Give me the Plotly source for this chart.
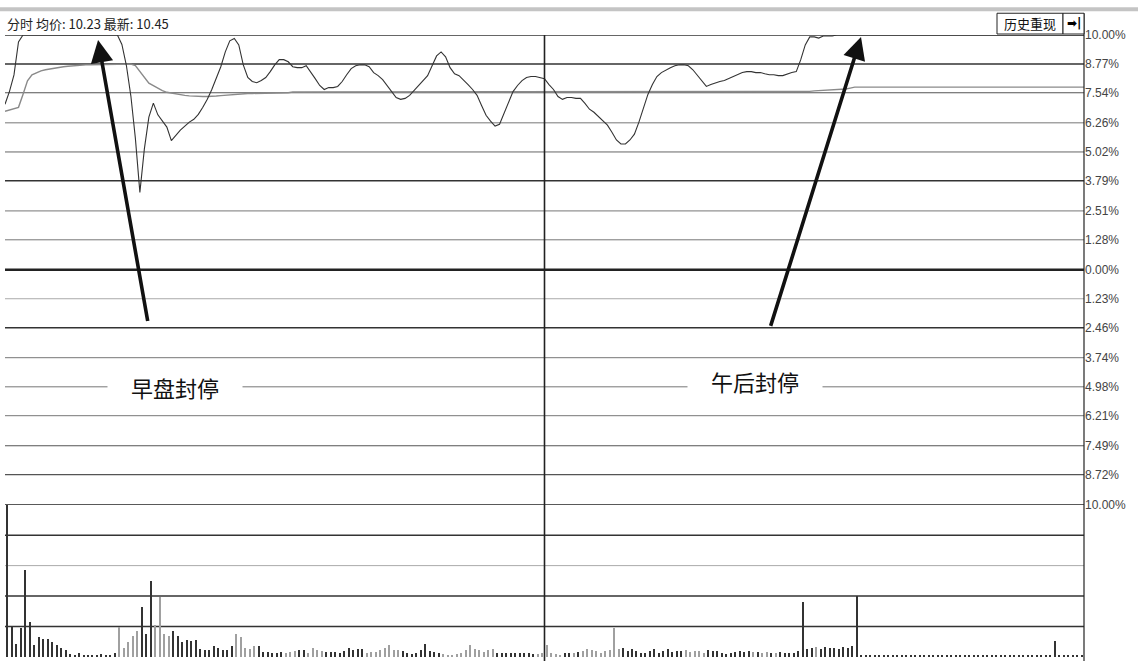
import plotly.graph_objects as go
from plotly.subplots import make_subplots

# ---- data (percent change vs previous close, one value per minute) ----
minutes = list(range(241))

price_pct = [
    7.05, 7.60, 8.30, 9.70,
    10.0, 10.0, 10.0, 10.0, 10.0, 10.0, 10.0, 10.0, 10.0, 10.0, 10.0,
    10.0, 10.0, 10.0, 10.0, 10.0, 10.0, 10.0, 10.0, 10.0, 10.0, 10.0,
    9.60, 8.70, 7.40, 5.60, 3.30, 5.15, 6.50, 7.10, 6.60, 6.33,
    6.08, 5.50, 5.75, 5.95, 6.12, 6.29, 6.41, 6.62, 6.92, 7.26,
    7.68, 8.19, 8.65, 9.28, 9.75, 9.85, 9.58, 8.73, 8.19, 8.02,
    7.97, 8.06, 8.19, 8.44, 8.73, 8.95, 8.95, 8.86, 8.65, 8.61,
    8.61, 8.69, 8.44, 8.14, 7.85, 7.68, 7.76, 7.76, 7.81, 8.02,
    8.31, 8.57, 8.69, 8.73, 8.73, 8.65, 8.40, 8.27, 8.10, 7.85,
    7.55, 7.34, 7.26, 7.30, 7.43, 7.64, 7.81, 8.02, 8.27, 8.69,
    9.11, 9.28, 9.07, 8.61, 8.35, 8.27, 8.10, 7.89, 7.68, 7.43,
    7.00, 6.58, 6.33, 6.12, 6.20, 6.67, 7.17, 7.59, 7.85, 8.06,
    8.19, 8.23, 8.23, 8.19, 8.14, 7.89, 7.68, 7.38, 7.26, 7.34,
    7.34, 7.30, 7.30, 7.09, 6.84, 6.71, 6.54, 6.37, 6.16, 5.86,
    5.53, 5.36, 5.36, 5.53, 5.78, 6.29, 6.84, 7.47, 7.89, 8.23,
    8.40, 8.52, 8.61, 8.69, 8.73, 8.73, 8.69, 8.52, 8.27, 8.02,
    7.81, 7.89, 7.97, 8.02, 8.06, 8.14, 8.23, 8.31, 8.40, 8.44,
    8.44, 8.40, 8.40, 8.35, 8.31, 8.31, 8.27, 8.27, 8.35, 8.40,
    8.44, 8.95, 9.58, 9.92, 9.92, 9.87, 9.96, 9.96, 9.96,
    10.0, 10.0, 10.0, 10.0, 10.0, 10.0, 10.0, 10.0, 10.0, 10.0,
    10.0, 10.0, 10.0, 10.0, 10.0, 10.0, 10.0, 10.0, 10.0, 10.0,
    10.0, 10.0, 10.0, 10.0, 10.0, 10.0, 10.0, 10.0, 10.0, 10.0,
    10.0, 10.0, 10.0, 10.0, 10.0, 10.0, 10.0, 10.0, 10.0, 10.0,
    10.0, 10.0, 10.0, 10.0, 10.0, 10.0, 10.0, 10.0, 10.0, 10.0,
    10.0, 10.0, 10.0, 10.0, 10.0, 10.0,
]

avg_pct = [
    6.75, 6.80, 6.86, 6.92, 7.47, 8.05, 8.30, 8.40, 8.47, 8.52,
    8.56, 8.60, 8.63, 8.65, 8.67, 8.69, 8.71, 8.73, 8.73, 8.73,
    8.73, 8.73, 8.73, 8.73, 8.73, 8.73, 8.73, 8.73, 8.76, 8.70,
    8.45, 8.15, 7.95, 7.84, 7.72, 7.63, 7.56, 7.52, 7.49, 7.46,
    7.43, 7.41, 7.39, 7.38, 7.38, 7.38, 7.38, 7.40, 7.42, 7.44,
    7.46, 7.48, 7.50, 7.51, 7.51, 7.51, 7.51, 7.51, 7.51, 7.51,
    7.54, 7.54, 7.54, 7.54, 7.57, 7.57, 7.57, 7.57, 7.57, 7.57,
    7.57, 7.57, 7.57, 7.57, 7.57, 7.57, 7.57, 7.57, 7.57, 7.57,
    7.57, 7.57, 7.57, 7.57, 7.57, 7.57, 7.57, 7.57, 7.57, 7.57,
    7.57, 7.57, 7.57, 7.57, 7.57, 7.57, 7.57, 7.57, 7.57, 7.57,
    7.57, 7.57, 7.57, 7.57, 7.57, 7.57, 7.57, 7.57, 7.57, 7.57,
    7.57, 7.57, 7.57, 7.57, 7.57, 7.57, 7.57, 7.57, 7.57, 7.57,
    7.57, 7.57, 7.57, 7.57, 7.57, 7.57, 7.57, 7.57, 7.57, 7.57,
    7.57, 7.57, 7.57, 7.57, 7.57, 7.57, 7.57, 7.57, 7.57, 7.57,
    7.57, 7.57, 7.57, 7.57, 7.57, 7.57, 7.57, 7.57, 7.57, 7.57,
    7.57, 7.57, 7.57, 7.57, 7.57, 7.57, 7.57, 7.57, 7.57, 7.57,
    7.57, 7.57, 7.57, 7.57, 7.57, 7.57, 7.57, 7.57, 7.57, 7.57,
    7.57, 7.57, 7.57, 7.57, 7.57, 7.57, 7.57, 7.57, 7.58, 7.60,
    7.62, 7.63, 7.64, 7.65, 7.66, 7.67, 7.68, 7.70, 7.74, 7.78,
    7.78, 7.78, 7.78, 7.78, 7.78, 7.78, 7.78, 7.78, 7.78, 7.78,
    7.78, 7.78, 7.78, 7.78, 7.78, 7.78, 7.78, 7.78, 7.78, 7.78,
    7.78, 7.78, 7.78, 7.78, 7.78, 7.78, 7.78, 7.78, 7.78, 7.78,
    7.78, 7.78, 7.78, 7.78, 7.78, 7.78, 7.78, 7.78, 7.78, 7.78,
    7.78, 7.78, 7.78, 7.78, 7.78, 7.78, 7.78, 7.78, 7.78, 7.78,
    7.78,
]

# volume per minute bar (in grid units, 5 = top of the volume panel)
bar_minutes = [m + 0.5 for m in range(240)]
volume = [
    5.00, 1.00, 0.45, 0.95, 2.87, 1.17, 0.39, 0.65, 0.59, 0.60,
    0.49, 0.39, 0.30, 0.24, 0.10, 0.06, 0.13, 0.06, 0.06, 0.06,
    0.07, 0.10, 0.09, 0.08, 0.15, 1.00, 0.30, 0.50, 0.70, 0.87,
    1.65, 0.75, 2.50, 1.07, 1.98, 0.78, 0.70, 0.87, 0.70, 0.50,
    0.57, 0.52, 0.57, 0.28, 0.25, 0.25, 0.38, 0.30, 0.25, 0.25,
    0.38, 0.78, 0.65, 0.30, 0.27, 0.38, 0.38, 0.18, 0.16, 0.13,
    0.15, 0.18, 0.13, 0.18, 0.20, 0.25, 0.24, 0.13, 0.29, 0.24,
    0.22, 0.19, 0.17, 0.19, 0.13, 0.22, 0.29, 0.24, 0.26, 0.26,
    0.13, 0.19, 0.19, 0.24, 0.29, 0.40, 0.24, 0.24, 0.22, 0.13,
    0.11, 0.15, 0.24, 0.42, 0.22, 0.19, 0.15, 0.11, 0.08, 0.08,
    0.11, 0.13, 0.24, 0.40, 0.26, 0.24, 0.19, 0.24, 0.26, 0.15,
    0.13, 0.13, 0.13, 0.15, 0.15, 0.15, 0.13, 0.10, 0.12, 0.15,
    0.40, 0.13, 0.11, 0.08, 0.13, 0.13, 0.15, 0.17, 0.22, 0.26,
    0.24, 0.20, 0.15, 0.22, 0.25, 0.95, 0.28, 0.30, 0.22, 0.26,
    0.20, 0.15, 0.13, 0.20, 0.28, 0.15, 0.22, 0.26, 0.18, 0.20,
    0.20, 0.24, 0.18, 0.22, 0.20, 0.15, 0.24, 0.22, 0.20, 0.13,
    0.10, 0.13, 0.17, 0.20, 0.18, 0.20, 0.18, 0.17, 0.15, 0.17,
    0.15, 0.13, 0.17, 0.15, 0.13, 0.15, 0.20, 1.80, 0.28, 0.30,
    0.33, 0.28, 0.35, 0.30, 0.30, 0.28, 0.33, 0.30, 0.38, 2.00,
    0.07, 0.08, 0.06, 0.08, 0.07, 0.08, 0.07, 0.06, 0.08, 0.07,
    0.08, 0.07, 0.08, 0.06, 0.07, 0.08, 0.07, 0.08, 0.07, 0.06,
    0.07, 0.08, 0.07, 0.08, 0.06, 0.07, 0.08, 0.07, 0.08, 0.07,
    0.06, 0.08, 0.07, 0.08, 0.07, 0.06, 0.08, 0.07, 0.08, 0.07,
    0.08, 0.07, 0.06, 0.52, 0.08, 0.07, 0.08, 0.08, 0.07, 0.08,
]

tick_vals = [10, 8.77, 7.54, 6.26, 5.02, 3.79, 2.51, 1.28, 0,
             -1.23, -2.46, -3.74, -4.98, -6.21, -7.49, -8.72, -10]
tick_text = ['10.00%', '8.77%', '7.54%', '6.26%', '5.02%', '3.79%', '2.51%', '1.28%', '0.00%',
             '1.23%', '2.46%', '3.74%', '4.98%', '6.21%', '7.49%', '8.72%', '10.00%']
vol_levels = [1, 2, 3, 4]

header_text = '分时 均价: 10.23 最新: 10.45'
label_morning = '早盘封停'
label_afternoon = '午后封停'

# ---- styling ----
W, H = 1138, 668
L, R, T, B = 5, 54, 35, 4
PW, PH = W - L - R, H - T - B
CJK = 'Noto Sans CJK SC'
price_grid_style = ['#333', '#333', '#555', '#777', '#666', '#333', '#777', '#777', '#222',
                    '#aaa', '#333', '#777', '#777', '#777', '#555', '#555', '#222']
price_grid_width = [1.5, 1.5, 1.2, 1, 1, 1.5, 1, 1, 2.5, 1, 1.5, 1, 1, 1, 1.2, 1.2, 1.5]
vol_grid_style = ['#333', '#333', '#aaa', '#333']


def px_x(p):
    return (p - L) / PW


def px_y(p):
    return (H - B - p) / PH


fig = make_subplots(rows=2, cols=1, shared_xaxes=True, row_heights=[475, 154], vertical_spacing=0)

# price and average lines
fig.add_trace(go.Scatter(x=minutes, y=avg_pct, mode='lines', line=dict(color='#8a8a8a', width=1.4),
                         showlegend=False, hoverinfo='skip'), row=1, col=1)
fig.add_trace(go.Scatter(x=minutes, y=price_pct, mode='lines', line=dict(color='#333', width=1.1),
                         showlegend=False), row=1, col=1)

# volume bars: dark when the minute closed up, grey when down
bar_colors = ['#333333' if price_pct[i + 1] >= price_pct[i] else '#a0a0a0' for i in range(240)]
fig.add_trace(go.Bar(x=bar_minutes, y=volume, width=0.3, marker=dict(color=bar_colors, line=dict(width=0)),
                     showlegend=False), row=2, col=1)

# grid lines
for v, c, w in zip(tick_vals, price_grid_style, price_grid_width):
    fig.add_hline(y=v, line=dict(color=c, width=w), layer='below', row=1, col=1)
for v, c in zip(vol_levels, vol_grid_style):
    fig.add_hline(y=v, line=dict(color=c, width=1.5 if c == '#333' else 1), layer='below', row=2, col=1)

# midday divider and right axis line
fig.add_shape(type='line', xref='x', yref='paper', x0=120, x1=120, y0=px_y(668), y1=1,
              line=dict(color='#222', width=1.6))
fig.add_shape(type='line', xref='paper', yref='paper', x0=1, x1=1, y0=px_y(668), y1=px_y(13),
              line=dict(color='#222', width=1.2))

# header band, title text and buttons
fig.add_shape(type='rect', xref='paper', yref='paper', x0=px_x(0), x1=px_x(W), y0=px_y(11), y1=px_y(7),
              fillcolor='#c4c4c4', line=dict(width=0))
fig.add_shape(type='rect', xref='paper', yref='paper', x0=px_x(997), x1=px_x(1063), y0=px_y(34), y1=px_y(13),
              fillcolor='white', line=dict(color='#222', width=1))
fig.add_shape(type='rect', xref='paper', yref='paper', x0=px_x(1063), x1=px_x(1084), y0=px_y(34), y1=px_y(13),
              fillcolor='white', line=dict(color='#222', width=1))
fig.add_annotation(xref='paper', yref='paper', x=px_x(5), y=px_y(23), text=header_text, showarrow=False,
                   xanchor='left', yanchor='middle', font=dict(family=CJK, size=13, color='#222'))
fig.add_annotation(xref='paper', yref='paper', x=px_x(1030), y=px_y(23), text='历史重现', showarrow=False,
                   xanchor='center', yanchor='middle', font=dict(family=CJK, size=13, color='#111'))
fig.add_annotation(xref='paper', yref='paper', x=px_x(1073.5), y=px_y(23), text='<b>➡|</b>', showarrow=False,
                   xanchor='center', yanchor='middle', font=dict(family='DejaVu Sans', size=12, color='#000'))

# labels and arrows
for txt, x, y in [(label_morning, 37.8, -4.98), (label_afternoon, 166.8, -4.73)]:
    fig.add_annotation(x=x, y=y, xref='x', yref='y', text='\u3000' + txt + '\u3000', showarrow=False,
                       bgcolor='white', borderpad=1, font=dict(family=CJK, size=22, color='#111'))
for hx, hy, tx, ty in [(20.7, 9.79, 31.8, -2.24), (190.4, 9.92, 170.2, -2.45)]:
    fig.add_annotation(x=hx, y=hy, xref='x', yref='y', ax=tx, ay=ty, axref='x', ayref='y', text='',
                       showarrow=True, arrowhead=2, arrowsize=1.25, arrowwidth=3.6, arrowcolor='#111')

fig.update_xaxes(range=[0, 240], showgrid=False, zeroline=False, showticklabels=False, showline=False)
fig.update_yaxes(range=[-10, 10], tickvals=tick_vals, ticktext=tick_text, side='right', showgrid=False,
                 zeroline=False, ticks='', tickfont=dict(family='Liberation Sans', size=12, color='#444'),
                 row=1, col=1)
fig.update_yaxes(range=[0, 5], showgrid=False, zeroline=False, showticklabels=False, row=2, col=1)
fig.update_layout(width=W, height=H, margin=dict(l=L, r=R, t=T, b=B), paper_bgcolor='white',
                  plot_bgcolor='white', bargap=0, showlegend=False)

# the page's default body margin would shift the chart by 8px
fig.write_html("out.html", config={'displayModeBar': False},
               post_script="document.body.style.margin='0';")
